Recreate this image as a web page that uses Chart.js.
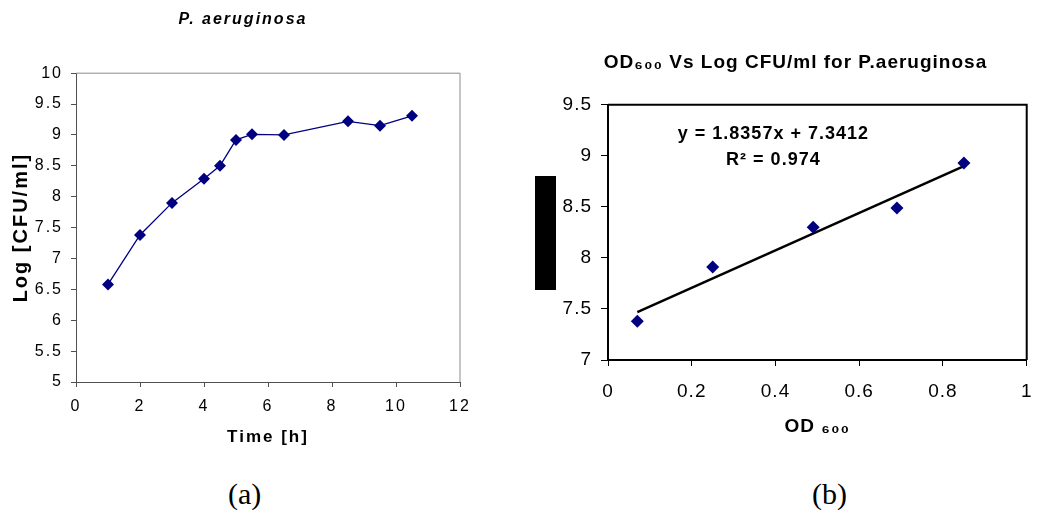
<!DOCTYPE html>
<html>
<head>
<meta charset="utf-8">
<script src="https://cdn.jsdelivr.net/npm/chart.js@4.4.1/dist/chart.umd.min.js"></script>
<style>
  html, body { margin: 0; padding: 0; background: #fff; width: 1046px; height: 521px; overflow: hidden; }
  #wrapA { position: absolute; left: 0; top: 0; }
  #wrapB { position: absolute; left: 560px; top: 0; }
  #blk { position: absolute; left: 535px; top: 176px; width: 21px; height: 114px; background: #000; }
  .cap { position: absolute; top: 477px; font-family: "Liberation Serif", "Times New Roman", serif; font-size: 30px; color: #000; }
</style>
</head>
<body>
<div id="wrapA"><canvas id="growth" width="486" height="460"></canvas></div>
<div id="wrapB"><canvas id="odfit" width="486" height="460"></canvas></div>
<div id="blk"></div>
<div class="cap" style="left:228px">(a)</div>
<div class="cap" style="left:812px">(b)</div>

<script>
// (a) growth curve
const hours = [1, 2, 3, 4, 4.5, 5, 5.5, 6.5, 8.5, 9.5, 10.5];
const logCfu = [6.58, 7.38, 7.90, 8.29, 8.50, 8.92, 9.01, 9.00, 9.22, 9.15, 9.31];

// (b) OD600 vs log CFU/ml
const od600 = [0.07, 0.25, 0.49, 0.69, 0.85];
const logCfuOd = [7.38, 7.91, 8.30, 8.49, 8.93];
const trendOd = [0.07, 0.85];
const trendLog = [7.47, 8.90];
const fitLines = ['y = 1.8357x + 7.3412', 'R\u00b2 = 0.974'];
const fitPos = { x: 0.395, y: [9.21, 8.955] };

const FONT = '"Liberation Sans", Arial, Helvetica, sans-serif';
const NAVY = '#000080';

const fmt = v => String(Math.round(v * 100) / 100);

// wider text, like the original export
const spacing = px => ({
  id: 'spacing',
  beforeDraw(chart) { chart.ctx.letterSpacing = px + 'px'; }
});

// top + right edge of the plot area
const frame = (color, width) => ({
  id: 'frame',
  beforeDatasetsDraw(chart) {
    const { ctx, chartArea: a } = chart;
    ctx.save();
    ctx.strokeStyle = color;
    ctx.lineWidth = width;
    ctx.beginPath();
    ctx.moveTo(a.left, a.top);
    ctx.lineTo(a.right, a.top);
    ctx.lineTo(a.right, a.bottom);
    ctx.stroke();
    ctx.restore();
  }
});

const fitLabel = {
  id: 'fitLabel',
  afterDatasetsDraw(chart) {
    const { ctx, scales } = chart;
    ctx.save();
    ctx.fillStyle = '#000';
    ctx.font = 'bold 18px ' + FONT;
    ctx.textAlign = 'center';
    ctx.textBaseline = 'middle';
    fitLines.forEach((t, i) => {
      ctx.fillText(t, scales.x.getPixelForValue(fitPos.x), scales.y.getPixelForValue(fitPos.y[i]));
    });
    ctx.restore();
  }
};

new Chart(document.getElementById('growth'), {
  type: 'scatter',
  data: {
    datasets: [{
      data: hours.map((h, i) => ({ x: h, y: logCfu[i] })),
      showLine: true,
      borderColor: NAVY,
      borderWidth: 1.3,
      pointStyle: 'rectRot',
      pointRadius: 6,
      pointBackgroundColor: NAVY,
      pointBorderWidth: 0
    }]
  },
  options: {
    responsive: false,
    animation: false,
    devicePixelRatio: 1,
    layout: { padding: { left: 26, right: 26, top: 0, bottom: 0 } },
    plugins: {
      legend: { display: false },
      tooltip: { enabled: false },
      title: {
        display: true,
        text: 'P. aeruginosa',
        color: '#000',
        font: { family: FONT, size: 16, weight: 'bold', style: 'italic' },
        padding: { top: 10, bottom: 44 }
      }
    },
    scales: {
      x: {
        min: 0, max: 12,
        ticks: { stepSize: 2, color: '#000', font: { family: FONT, size: 16 }, padding: 10, callback: fmt },
        grid: { drawOnChartArea: false, tickLength: 5, color: '#505050', tickColor: '#505050' },
        border: { color: '#505050', width: 1 },
        title: { display: true, text: 'Time [h]', color: '#000', font: { family: FONT, size: 17, weight: 'bold' }, padding: { top: 0, bottom: 12 } },
        afterFit: s => { s.height = 78; }
      },
      y: {
        min: 5, max: 10,
        ticks: { stepSize: 0.5, color: '#000', font: { family: FONT, size: 16 }, padding: 8, callback: fmt },
        grid: { drawOnChartArea: false, tickLength: 5, color: '#505050', tickColor: '#505050' },
        border: { color: '#505050', width: 1 },
        title: { display: true, text: 'Log [CFU/ml]', color: '#000', font: { family: FONT, size: 20, weight: 'bold' }, padding: { top: -16.5, bottom: 0 } },
        afterFit: s => { s.width = 50; }
      }
    }
  },
  plugins: [spacing(2), frame('#8c8c8c', 1)]
});

new Chart(document.getElementById('odfit'), {
  type: 'scatter',
  data: {
    datasets: [{
      data: od600.map((v, i) => ({ x: v, y: logCfuOd[i] })),
      pointStyle: 'rectRot',
      pointRadius: 6.5,
      pointBackgroundColor: NAVY,
      pointBorderWidth: 0
    }, {
      data: trendOd.map((v, i) => ({ x: v, y: trendLog[i] })),
      showLine: true,
      borderColor: '#000',
      borderWidth: 2.5,
      pointRadius: 0
    }]
  },
  options: {
    responsive: false,
    animation: false,
    devicePixelRatio: 1,
    layout: { padding: { left: 0, right: 15, top: 0, bottom: 0 } },
    plugins: {
      legend: { display: false },
      tooltip: { enabled: false },
      title: {
        display: true,
        text: 'OD\u2086\u2080\u2080 Vs Log CFU/ml for P.aeruginosa',
        color: '#000',
        font: { family: FONT, size: 19, weight: 'bold' },
        padding: { top: 51, bottom: 31 }
      }
    },
    scales: {
      x: {
        min: 0, max: 1,
        ticks: { stepSize: 0.2, color: '#000', font: { family: FONT, size: 19 }, padding: 14, callback: fmt },
        grid: { drawOnChartArea: false, tickLength: 6, color: '#000', tickColor: '#000' },
        border: { color: '#000', width: 2 },
        title: { display: true, text: 'OD \u2086\u2080\u2080', color: '#000', font: { family: FONT, size: 19, weight: 'bold' }, padding: { top: 0, bottom: 22 } },
        afterFit: s => { s.height = 100; }
      },
      y: {
        min: 7, max: 9.5,
        ticks: { stepSize: 0.5, color: '#000', font: { family: FONT, size: 19 }, padding: 9, callback: fmt },
        grid: { drawOnChartArea: false, tickLength: 7, color: '#000', tickColor: '#000' },
        border: { color: '#000', width: 2 },
        afterFit: s => { s.width = 48; }
      }
    }
  },
  plugins: [spacing(1), frame('#000', 2), fitLabel]
});
</script>
</body>
</html>
